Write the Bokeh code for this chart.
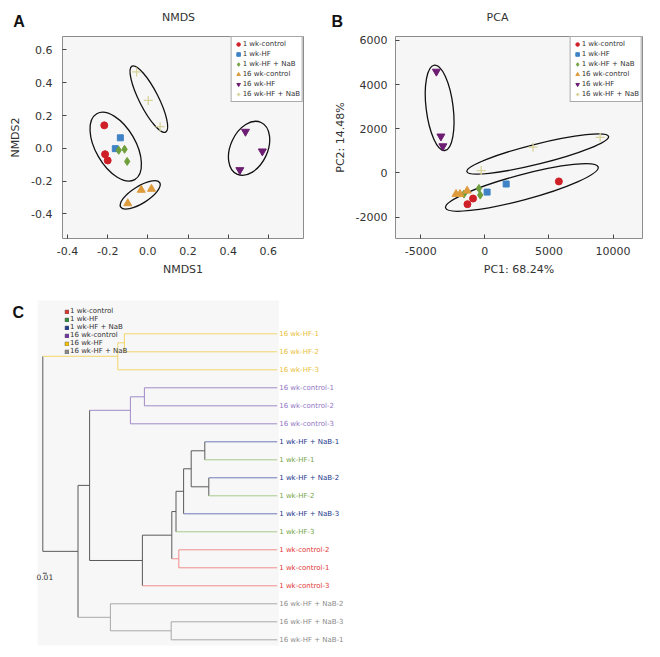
from bokeh.plotting import figure
from bokeh.layouts import column, row
from bokeh.models import (Range1d, FixedTicker, Legend, LegendItem,
                          ColumnDataSource, BoxAnnotation)
from bokeh.core.properties import value
from bokeh.embed import file_html
from bokeh.resources import INLINE

FONT = "DejaVu Sans"
BOLD = "Liberation Sans"

# ---------------- data ----------------
groups = ["1 wk-control", "1 wk-HF", "1 wk-HF + NaB", "16 wk-control", "16 wk-HF", "16 wk-HF + NaB"]

# NMDS coordinates
nmds_x = [
    [-0.217, -0.213, -0.200],
    [-0.137, -0.162],
    [-0.145, -0.116, -0.103],
    [-0.100, -0.033, 0.018],
    [0.486, 0.570, 0.458],
    [-0.056, 0.002, 0.061],
]
nmds_y = [
    [0.140, -0.036, -0.074],
    [0.064, -0.002],
    [-0.012, -0.006, -0.080],
    [-0.336, -0.254, -0.248],
    [0.102, -0.018, -0.132],
    [0.466, 0.292, 0.132],
]
# NMDS group ellipses: centre (data), full axes (px), angle (deg)
nmds_ell_x = [-0.160, 0.005, -0.038, 0.504]
nmds_ell_y = [0.010, 0.300, -0.284, 0.000]
nmds_ell_w = [76, 74, 46, 57]
nmds_ell_h = [40, 19, 17, 37]
nmds_ell_a = [-60, -63, 32, 65]

# PCA coordinates
pca_x = [
    [5775, -1357, -920],
    [1664, 176],
    [-460, -360, -1633],
    [-1380, -1940, -2247],
    [-3780, -3427, -3273],
    [-284, 3758, 8996],
]
pca_y = [
    [-384, -1416, -1160],
    [-502, -868],
    [-703, -1005, -959],
    [-808, -959, -959],
    [4594, 1658, 1215],
    [105, 1169, 1612],
]
pca_ell_x = [-3527, 4126, 2891]
pca_ell_y = [2950, 858, -658]
pca_ell_w = [86, 146, 158]
pca_ell_h = [27, 20, 25]
pca_ell_a = [97, 14, 15]

nmds_xticks = [-0.4, -0.2, 0.0, 0.2, 0.4, 0.6]
nmds_xlabels = ["-0.4", "-0.2", "0.0", "0.2", "0.4", "0.6"]
nmds_yticks = [-0.4, -0.2, 0.0, 0.2, 0.4, 0.6]
nmds_ylabels = ["-0.4", "-0.2", "0.0", "0.2", "0.4", "0.6"]
pca_xticks = [-5000, 0, 5000, 10000]
pca_xlabels = ["-5000", "0", "5000", "10000"]
pca_yticks = [-2000, 0, 2000, 4000, 6000]
pca_ylabels = ["-2000", "0", "2000", "4000", "6000"]

panel_letters = ["A", "B"]
panel_titles = ["NMDS", "PCA"]

# dendrogram
leaf_labels = ["16 wk-HF-1", "16 wk-HF-2", "16 wk-HF-3",
               "16 wk-control-1", "16 wk-control-2", "16 wk-control-3",
               "1 wk-HF + NaB-1", "1 wk-HF-1", "1 wk-HF + NaB-2", "1 wk-HF-2",
               "1 wk-HF + NaB-3", "1 wk-HF-3",
               "1 wk-control-2", "1 wk-control-1", "1 wk-control-3",
               "16 wk-HF + NaB-2", "16 wk-HF + NaB-3", "16 wk-HF + NaB-1"]
leaf_group = [4, 4, 4, 3, 3, 3, 2, 1, 2, 1, 2, 1, 0, 0, 0, 5, 5, 5]
leaf_depth = 0.586
tree_nodes = {  # name: (child, child, depth from root)
    "hf12": (0, 1, 0.204),
    "hf": ("hf12", 2, 0.1875),
    "c12": (3, 4, 0.254),
    "c": ("c12", 5, 0.219),
    "a": (6, 7, 0.405),
    "b": (8, 9, 0.415),
    "ab": ("a", "b", 0.371),
    "ab3": ("ab", 10, 0.352),
    "abh3": ("ab3", 11, 0.333),
    "k12": (12, 13, 0.340),
    "w1": ("abh3", "k12", 0.3225),
    "w1k3": ("w1", 14, 0.249),
    "c_w1": ("c", "w1k3", 0.117),
    "n13": (16, 17, 0.321),
    "n": (15, "n13", 0.169),
    "mid": ("c_w1", "n", 0.088),
    "root": ("hf", "mid", 0.0),
}
scale_len = 0.01

# ---------------- styles ----------------
markers = ["circle", "square", "diamond", "triangle", "inverted_triangle", "cross"]
mcolors = ["#cf2027", "#3f83c6", "#6e9f3b", "#dd9b3c", "#6d1e73", "#d8d39a"]
msizes = [7, 6, 8, 8, 8, 9]
line_cols = ["#ef8c8c", "#a6c98a", "#6f79b8", "#a08ac8", "#f2d66a", "#a8a8a8"]
label_cols = ["#e23a3a", "#76a64a", "#23398c", "#9276c4", "#e8c03a", "#8c8c8c"]
legend_cols = ["#d9362f", "#2e8b3a", "#1f3c8e", "#7034a0", "#f2c200", "#8a8a8a"]
MIXED = "#5a5a5a"


def bare(p):
    p.axis.visible = False
    p.grid.visible = False
    p.outline_line_color = None
    p.min_border_left = p.min_border_right = p.min_border_top = p.min_border_bottom = 0


# ---------------- header (panel letters and titles) ----------------
pH = figure(width=652, height=30, x_range=Range1d(0, 652), y_range=Range1d(30, 0),
            output_backend="svg", toolbar_location=None)
bare(pH)
pH.text(x=[12.7, 331], y=[20.5, 20.5], text=panel_letters, text_font=value(BOLD),
        text_font_style="bold", text_font_size="16px", text_color="#111111",
        text_baseline="middle", text_align="left")
pH.text(x=[178, 497], y=[16.7, 16.7], text=panel_titles, text_font=value(FONT),
        text_font_size="11px", text_color="#333333", text_baseline="middle", text_align="center")


def style_axes(p, xt, xl, yt, yl, xlab, ylab, ystand):
    p.grid.visible = False
    p.background_fill_color = "#f6f6f6"
    p.outline_line_color = "#8c8c8c"
    p.outline_line_width = 1
    for ax, t, l in ((p.xaxis[0], xt, xl), (p.yaxis[0], yt, yl)):
        ax.ticker = FixedTicker(ticks=t)
        ax.major_label_overrides = {k: v for k, v in zip(t, l)}
        ax.major_tick_in = 4
        ax.major_tick_out = 0
        ax.minor_tick_line_color = None
        ax.axis_line_color = None
        ax.major_tick_line_color = "#444444"
        ax.major_label_text_font = FONT
        ax.major_label_text_font_size = "11px"
        ax.major_label_text_color = "#333333"
        ax.axis_label_text_font = FONT
        ax.axis_label_text_font_size = "11px"
        ax.axis_label_text_font_style = "normal"
        ax.axis_label_text_color = "#333333"
    p.xaxis[0].axis_label = xlab
    p.yaxis[0].axis_label = ylab
    p.xaxis[0].major_label_standoff = 8
    p.xaxis[0].axis_label_standoff = 5
    p.yaxis[0].major_label_standoff = ystand
    p.yaxis[0].axis_label_standoff = 6


def scatter_panel(p, xs, ys, ex, ey, ew, eh, ea):
    p.ellipse(x=ex, y=ey, width=ew, height=eh, angle=ea, angle_units="deg",
              width_units="screen", height_units="screen",
              fill_color=None, line_color="#111111", line_width=1.3)
    rends = []
    for i in range(len(groups)):
        if markers[i] == "cross":
            r = p.scatter(xs[i], ys[i], marker="cross", size=msizes[i],
                          line_color=mcolors[i], line_width=1.3)
        else:
            r = p.scatter(xs[i], ys[i], marker=markers[i], size=msizes[i],
                          fill_color=mcolors[i], line_color=mcolors[i])
        rends.append(r)
    leg = Legend(items=[LegendItem(label=g, renderers=[r]) for g, r in zip(groups, rends)],
                 location="top_right", margin=0, padding=2, spacing=0,
                 label_text_font=FONT, label_text_font_size="7px", label_text_color="#333333",
                 label_height=9, glyph_height=10, glyph_width=9, label_standoff=0,
                 border_line_color="#555555", background_fill_color="white")
    p.add_layout(leg)


# ---------------- panel A ----------------
pA = figure(width=330, height=260, x_range=Range1d(-0.425, 0.775), y_range=Range1d(-0.55, 0.682),
            output_backend="svg", toolbar_location=None,
            min_border_left=62, min_border_right=27, min_border_top=4, min_border_bottom=52)
style_axes(pA, nmds_xticks, nmds_xlabels, nmds_yticks, nmds_ylabels, "NMDS1", "NMDS2", 10)
scatter_panel(pA, nmds_x, nmds_y, nmds_ell_x, nmds_ell_y, nmds_ell_w, nmds_ell_h, nmds_ell_a)

# ---------------- panel B ----------------
pB = figure(width=322, height=260, x_range=Range1d(-6970, 12300), y_range=Range1d(-2970, 6180),
            output_backend="svg", toolbar_location=None,
            min_border_left=61, min_border_right=10, min_border_top=6, min_border_bottom=52)
style_axes(pB, pca_xticks, pca_xlabels, pca_yticks, pca_ylabels, "PC1: 68.24%", "PC2: 14.48%", 8)
scatter_panel(pB, pca_x, pca_y, pca_ell_x, pca_ell_y, pca_ell_w, pca_ell_h, pca_ell_a)

# ---------------- panel C ----------------
pC = figure(width=400, height=360, x_range=Range1d(-0.10575, 0.89425), y_range=Range1d(17.594, -2.406),
            output_backend="svg", toolbar_location=None)
bare(pC)
pC.background_fill_color = "white"
pC.add_layout(BoxAnnotation(left=-0.013, right=leaf_depth + 0.004, top=-1.85, bottom=17.32,
                            fill_color="#f7f7f7", fill_alpha=1, line_color=None, level="underlay"))


def node_y(n):
    if isinstance(n, int):
        return float(n)
    a, b, _ = tree_nodes[n]
    return (node_y(a) + node_y(b)) / 2


def node_depth(n):
    return leaf_depth if isinstance(n, int) else tree_nodes[n][2]


def node_groups(n):
    if isinstance(n, int):
        return {leaf_group[n]}
    a, b, _ = tree_nodes[n]
    return node_groups(a) | node_groups(b)


def node_color(n):
    g = node_groups(n)
    return line_cols[list(g)[0]] if len(g) == 1 else MIXED


x0, y0, x1, y1, sc = [], [], [], [], []
for name, (a, b, d) in tree_nodes.items():
    x0.append(d); x1.append(d); y0.append(node_y(a)); y1.append(node_y(b)); sc.append(node_color(name))
    for ch in (a, b):
        x0.append(d); x1.append(node_depth(ch)); y0.append(node_y(ch)); y1.append(node_y(ch))
        sc.append(node_color(ch))
pC.segment(x0=x0, y0=y0, x1=x1, y1=y1, line_color=sc, line_width=1)

lab_src = ColumnDataSource(dict(x=[leaf_depth] * len(leaf_labels), y=list(range(len(leaf_labels))),
                                text=leaf_labels, color=[label_cols[g] for g in leaf_group]))
pC.text(x="x", y="y", text="text", source=lab_src, x_offset=2,
        text_color="color", text_font=value(FONT), text_font_size="7px",
        text_baseline="middle")

# scale bar
pC.segment(x0=[0.0], y0=[13.3], x1=[scale_len], y1=[13.3], line_color="#444444", line_width=1)
pC.text(x=[scale_len / 2], y=[13.5], text=["0.01"], text_font=value(FONT), text_font_size="7.5px",
        text_align="center", text_baseline="middle", text_color="#333333")

# legend for C (group colour squares)
nan = float("nan")
dummy = []
for i in range(len(groups)):
    dummy.append(pC.quad(left=[nan], right=[nan], top=[nan], bottom=[nan],
                         fill_color=legend_cols[i], line_color="#666666", line_width=0.5))
legC = Legend(items=[LegendItem(label=g, renderers=[r]) for g, r in zip(groups, dummy)],
              location=(64, 295), margin=0, padding=2, spacing=0,
              label_text_font=FONT, label_text_font_size="7px", label_text_color="#333333",
              label_height=6, glyph_height=5, glyph_width=5, label_standoff=1,
              border_line_color=None, background_fill_alpha=0)
pC.add_layout(legC)
pC.text(x=[-0.0758], y=[-1.2], text=["C"], text_font=value(BOLD), text_font_style="bold",
        text_font_size="16px", text_color="#111111", text_baseline="middle")

layout = column(pH, row(pA, pB), pC)
open("out.html", "w").write(file_html(layout, INLINE))
